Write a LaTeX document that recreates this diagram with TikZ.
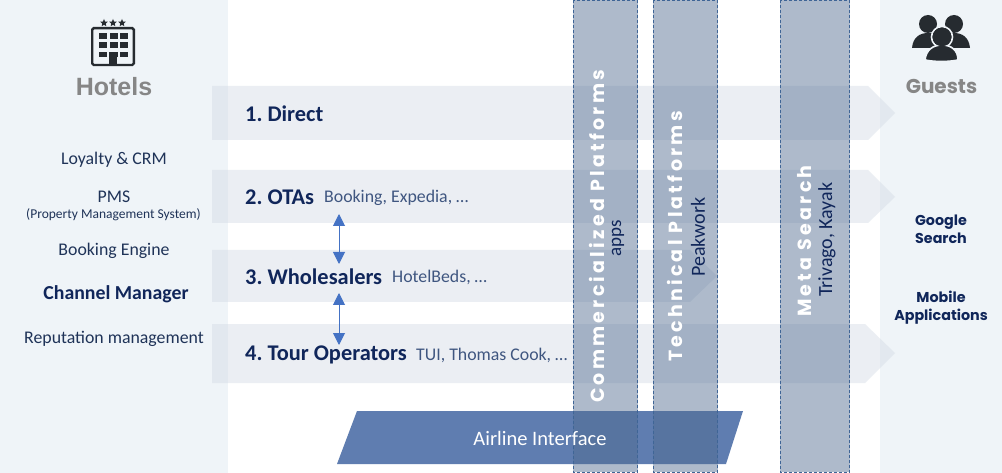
\documentclass[tikz,border=0pt]{standalone}
\usepackage{fontspec}
\usetikzlibrary{shapes.geometric,arrows.meta}
\setmainfont{Carlito}
\newfontfamily\gothic{Poppins}
\newfontfamily\gothicsp[LetterSpace=17]{Poppins}
\newfontfamily\arialf{Liberation Sans}
\newcommand{\fs}[1]{\fontsize{#1}{#1}\selectfont\frenchspacing}
\definecolor{panel}{HTML}{EFF4F8}
\definecolor{band}{HTML}{D3DBE5}
\definecolor{navy}{HTML}{10265A}
\definecolor{midnavy}{HTML}{3F5680}
\definecolor{darktext}{HTML}{1F3358}
\definecolor{colfill}{HTML}{4F6A8F}
\definecolor{coledge}{HTML}{3F6596}
\definecolor{airline}{HTML}{5F7DB0}
\definecolor{arrowblue}{HTML}{4472C4}
\definecolor{icon}{HTML}{262B30}
\tikzset{
  x=1pt,y=-1pt,
  bandshape/.style={fill=band,fill opacity=.45,draw=none},
  columnbox/.style={fill=colfill,fill opacity=.46,draw=coledge,densely dashed,line width=.9pt},
  lefttext/.style={text=darktext,font=\fs{17.8},inner sep=0pt,anchor=center},
  rowhead/.style={text=navy,font=\bfseries\fs{22.4},inner sep=0pt,anchor=west},
  rowsub/.style={text=midnavy,font=\fs{17.8},inner sep=0pt,anchor=west},
  righttext/.style={text=navy,font=\gothic\bfseries\fs{14.3},inner sep=0pt,anchor=base},
  coltitle/.style={text=white,font=\gothicsp\bfseries\fs{19},inner sep=0pt,rotate=90,anchor=west},
  colsub/.style={text=navy,font=\fs{20},inner sep=0pt,rotate=90,anchor=west},
  twoway/.style={arrowblue,line width=1pt,{Triangle[width=12pt,length=12pt]}-{Triangle[width=12pt,length=12pt]}},
  starmark/.style={star,star points=5,star point ratio=2.2,fill=icon,draw=none,minimum size=8pt,inner sep=0pt},
}
\begin{document}
\begin{tikzpicture}
\useasboundingbox (0,0) rectangle (1002,473);
\fill[white] (0,0) rectangle (1002,473);
% side panels
\fill[panel] (0,0) rectangle (228,473);
\fill[panel] (880,0) rectangle (1002,473);
% bands
\path[bandshape] (212,86) -- (868,86) -- (895,113) -- (868,140) -- (212,140) -- cycle;
\path[bandshape] (212,170) -- (868,170) -- (895,197) -- (868,223) -- (212,223) -- cycle;
\path[bandshape] (212,250) -- (690,250) -- (717,276) -- (690,302) -- (212,302) -- cycle;
\path[bandshape] (212,324) -- (865,324) -- (895,353) -- (865,383) -- (212,383) -- cycle;
% airline interface
\path[fill=airline] (337,464) -- (357,411) -- (743,411) -- (726,464) -- cycle;
% columns
\path[columnbox] (573,0.5) rectangle (637.5,472);
\path[columnbox] (653,0.5) rectangle (717.5,472);
\path[columnbox] (780,0.5) rectangle (849.5,472);
\node[text=white,font=\fs{20.5},inner sep=0pt] (airlinelabel) at (540,438) {Airline Interface};
% column text
\node[coltitle] (commercial) at (597,403) {Commercialized Platforms};
\node[colsub,font=\fs{19}] (apps) at (618,256.5) {apps};
\node[coltitle] (technical) at (675,362) {Technical Platforms};
\node[colsub] (peakwork) at (698,277) {Peakwork};
\node[coltitle] (meta) at (805,317) {Meta Search};
\node[colsub] (trivago) at (827,297) {Trivago, Kayak};
% left
\node[text=gray!95,font=\arialf\bfseries\fs{25},inner sep=0pt] (hotels) at (114,87) {Hotels};
\node[lefttext] (loyalty) at (114,159.5) {Loyalty \& CRM};
\node[lefttext] (pms) at (114,197) {PMS};
\node[lefttext,font=\fs{13.5}] (pmslong) at (113.5,214.5) {(Property Management System)};
\node[lefttext] (engine) at (114,250.5) {Booking Engine};
\node[lefttext,font=\bfseries\fs{19.8},text=navy] (channel) at (116,294.5) {Channel Manager};
\node[lefttext] (reputation) at (114,338.5) {Reputation management};
% rows
\node[rowhead] (direct) at (245,113.5) {1. Direct};
\node[rowhead] (otas) at (245,197.5) {2. OTAs};
\node[rowsub] (otasub) at (324,197.5) {Booking, Expedia, …};
\node[rowhead] (whole) at (245,276.5) {3. Wholesalers};
\node[rowsub] (wholesub) at (392,277.5) {HotelBeds, …};
\node[rowhead] (tour) at (245,354.5) {4. Tour Operators};
\node[rowsub] (toursub) at (416,355.5) {TUI, Thomas Cook, …};
% double arrows
\coordinate (a1) at (339,214);
\coordinate (a2) at (339,264);
\coordinate (a3) at (339,293);
\coordinate (a4) at (339,345);
\draw[twoway] (a1) -- (a2);
\draw[twoway] (a3) -- (a4);
% right
\node[text=gray!95,font=\gothic\bfseries\fs{20},inner sep=0pt] (guests) at (941.5,86) {Guests};
\node[righttext] (google) at (941,226) {Google};
\node[righttext] (search) at (941,244) {Search};
\node[righttext] (mobile) at (941,302) {Mobile};
\node[righttext] (apps2) at (941,320) {Applications};
% hotel icon
\draw[icon,line width=2.4pt,rounded corners=1.5pt] (92.2,65) -- (92.2,28.2) -- (133.8,28.2) -- (133.8,65) -- cycle;
\foreach \yy/\hh in {33/6,42/6,52/5.5}{
  \foreach \xx/\ww in {99/8,110/7.5,120/8}{
    \fill[icon] (\xx,\yy) rectangle (\xx+\ww,\yy+\hh);
  }
}
\fill[icon] (109,52) rectangle (117,66);
\node[starmark] (s1) at (104,23) {};
\node[starmark] (s2) at (113,23) {};
\node[starmark] (s3) at (122,23) {};
% guests icon
\fill[icon] (928,24) circle (9);
\fill[icon] (954,24) circle (9);
\fill[icon] (912,48) .. controls (913,37) and (920,33) .. (928,33) .. controls (936,33) and (944,37) .. (945,48) -- cycle;
\fill[icon] (938,48) .. controls (939,37) and (946,33) .. (954,33) .. controls (962,33) and (969,37) .. (970,48) -- cycle;
\fill[icon,draw=panel,line width=1.6pt] (942,37) circle (10.5);
\fill[icon,draw=panel,line width=1.6pt] (925,60) .. controls (926,50) and (933,45) .. (942,45) .. controls (951,45) and (958,50) .. (958,60) .. controls (948,62) and (935,62) .. (925,60) -- cycle;
\fill[icon] (942,37) circle (9.3);
\end{tikzpicture}
\end{document}
